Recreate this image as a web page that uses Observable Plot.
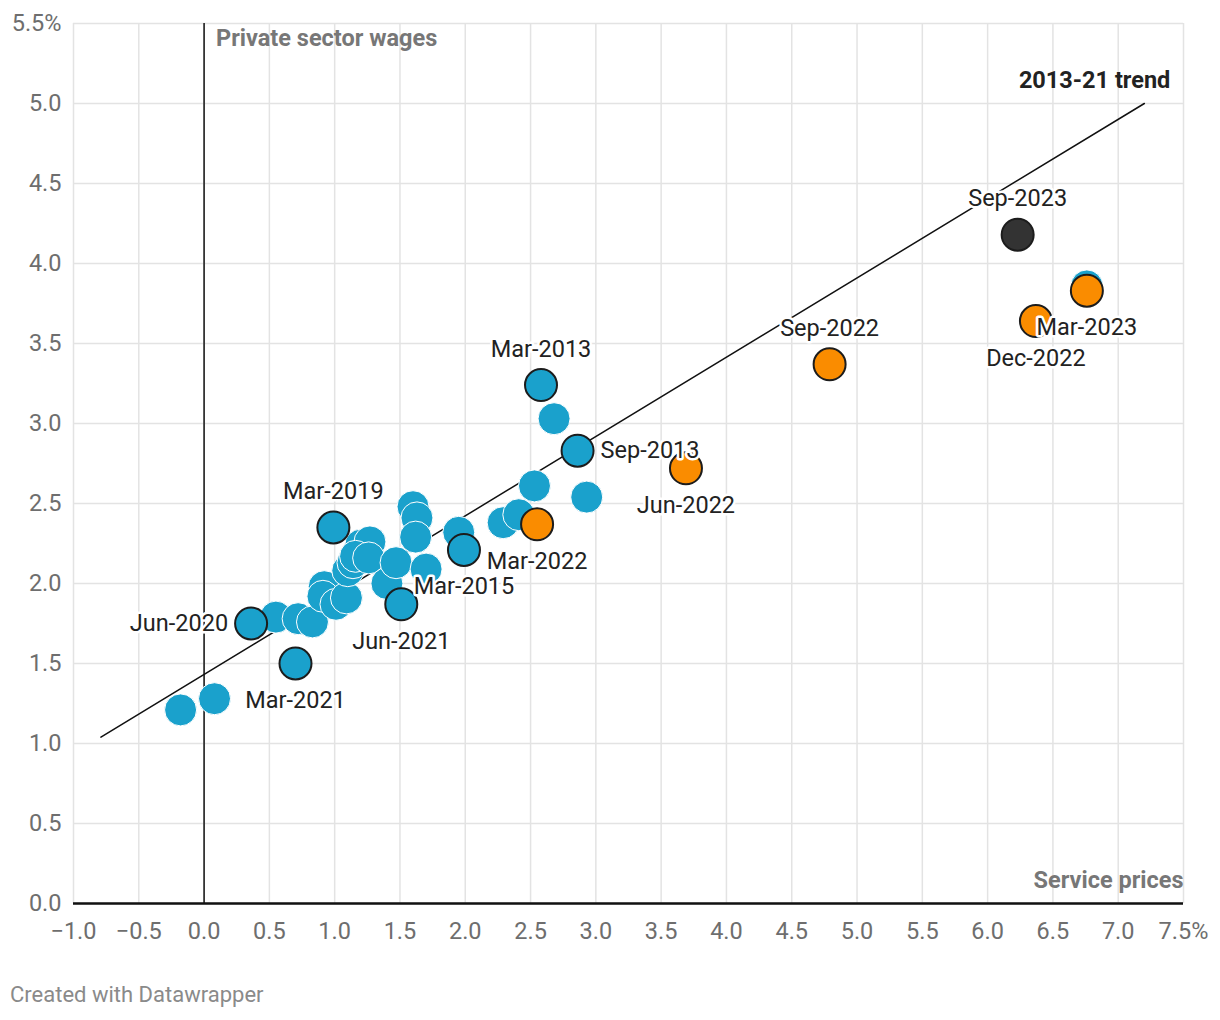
<!DOCTYPE html>
<html>
<head>
<meta charset="utf-8">
<script src="https://cdn.jsdelivr.net/npm/d3@7"></script>
<script src="https://cdn.jsdelivr.net/npm/@observablehq/plot@0.6"></script>
<style>
  body { margin: 0; background: #fff; font-family: Roboto, "Noto Sans", sans-serif; }
  #chart svg { display: block; }
  #footer { margin: 22px 0 0 10px; font-size: 22px; line-height: 26px; color: #8a8a8a; font-family: Roboto, sans-serif; }
</style>
</head>
<body>
<div id="chart"></div>
<div id="footer">Created with Datawrapper</div>
<script>
// Unlabelled quarters (blue)
const bgX = [-0.18, 0.08, 0.55, 0.72, 0.83, 0.92, 0.91, 1.01, 1.09, 1.10, 1.14, 1.20, 1.27, 1.16, 1.26, 1.40, 1.47, 1.60, 1.63, 1.62, 1.70, 1.95, 2.29, 2.41, 2.53, 2.68, 2.93, 6.76];
const bgY = [1.21, 1.28, 1.79, 1.78, 1.76, 1.98, 1.92, 1.87, 1.91, 2.08, 2.13, 2.24, 2.26, 2.17, 2.16, 2.00, 2.13, 2.48, 2.41, 2.29, 2.09, 2.32, 2.38, 2.43, 2.61, 3.03, 2.54, 3.86];

// Labelled quarters
const labNames = ["Mar-2019", "Jun-2020", "Mar-2021", "Jun-2021", "Mar-2015", "Mar-2013", "Sep-2013", "Mar-2022", "Jun-2022", "Sep-2022", "Dec-2022", "Mar-2023", "Sep-2023"];
const labX = [0.99, 0.36, 0.70, 1.51, 1.99, 2.58, 2.86, 2.55, 3.69, 4.79, 6.37, 6.76, 6.23];
const labY = [2.35, 1.75, 1.50, 1.87, 2.21, 3.24, 2.83, 2.37, 2.72, 3.37, 3.64, 3.83, 4.18];
const labGroup = ["2013-21", "2013-21", "2013-21", "2013-21", "2013-21", "2013-21", "2013-21", "2022-23", "2022-23", "2022-23", "2022-23", "2022-23", "latest"];

// 2013-21 trend line end points
const trendX = [-0.79, 7.2];
const trendY = [1.04, 5.0];

const xTicks = [-1, -0.5, 0, 0.5, 1, 1.5, 2, 2.5, 3, 3.5, 4, 4.5, 5, 5.5, 6, 6.5, 7, 7.5];
const yTicks = [0, 0.5, 1, 1.5, 2, 2.5, 3, 3.5, 4, 4.5, 5, 5.5];

const bg = bgX.map((x, i) => ({x, y: bgY[i]}));
const lab = labNames.map((name, i) => ({name, x: labX[i], y: labY[i], group: labGroup[i]}));
const trend = trendX.map((x, i) => ({x, y: trendY[i]}));

const colors = {"2013-21": "#1aa1cc", "2022-23": "#fa8c00", "latest": "#333333"};

const leftNames = ["Jun-2020"];
const rightNames = ["Sep-2013"];
const aboveNames = ["Mar-2019", "Mar-2013", "Sep-2022", "Sep-2023"];
const pos = n => leftNames.includes(n) ? "left" : rightNames.includes(n) ? "right" : aboveNames.includes(n) ? "above" : "below";

const fmtX = d => (d === 7.5 ? "7.5%" : d.toFixed(1)).replace("-", "\u2212");
const fmtY = d => (d === 5.5 ? "5.5%" : d.toFixed(1));

const FS = 23.5;
const labelStyle = {fontSize: FS, fill: "#222", stroke: "white", strokeWidth: 5, fontFamily: "Roboto"};

const chart = Plot.plot({
  width: 1220,
  height: 960,
  marginLeft: 73,
  marginRight: 37,
  marginTop: 23,
  marginBottom: 57,
  style: {fontFamily: "Roboto, sans-serif", fontSize: FS + "px", color: "#6e6e6e", background: "white"},
  x: {domain: [-1, 7.5], ticks: xTicks, tickFormat: fmtX, label: null},
  y: {domain: [0, 5.5], ticks: yTicks, tickFormat: fmtY, label: null},
  marks: [
    Plot.ruleX(xTicks, {stroke: "#e3e3e3", strokeWidth: 1.5}),
    Plot.ruleY(yTicks, {stroke: "#e3e3e3", strokeWidth: 1.5}),
    Plot.axisX({ticks: xTicks, tickFormat: fmtX, tickSize: 0, tickPadding: 19, fontSize: FS, fill: "#6e6e6e", label: null}),
    Plot.axisY({ticks: yTicks, tickFormat: fmtY, tickSize: 0, tickPadding: 12, fontSize: FS, fill: "#6e6e6e", label: null}),
    Plot.ruleX([0], {stroke: "#111", strokeWidth: 1.5}),
    Plot.ruleY([0], {stroke: "#111", strokeWidth: 2.5}),
    Plot.line(trend, {x: "x", y: "y", stroke: "#111", strokeWidth: 1.5}),
    Plot.dot(bg, {x: "x", y: "y", r: 16, fill: colors["2013-21"], stroke: "white", strokeWidth: 1}),
    Plot.dot(lab, {x: "x", y: "y", r: 16, fill: d => colors[d.group], stroke: "#1c1c1c", strokeWidth: 2}),
    Plot.text(lab.filter(d => pos(d.name) === "above"), {x: "x", y: "y", text: "name", dy: -36, ...labelStyle}),
    Plot.text(lab.filter(d => pos(d.name) === "below"), {x: "x", y: "y", text: "name", dy: 37, ...labelStyle}),
    Plot.text(lab.filter(d => pos(d.name) === "left"), {x: "x", y: "y", text: "name", dx: -23, textAnchor: "end", ...labelStyle}),
    Plot.text(lab.filter(d => pos(d.name) === "right"), {x: "x", y: "y", text: "name", dx: 23, textAnchor: "start", ...labelStyle}),
    Plot.text(["Private sector wages"], {x: 0, y: 5.5, text: d => d, dx: 12, dy: 15, textAnchor: "start", fontSize: FS, fontWeight: "bold", fill: "#777"}),
    Plot.text(["2013-21 trend"], {x: trendX[1], y: trendY[1], text: d => d, dx: 26, dy: -23, textAnchor: "end", fontSize: FS, fontWeight: "bold", fill: "#222"}),
    Plot.text(["Service prices"], {x: 7.5, y: 0, text: d => d, dy: -23, textAnchor: "end", fontSize: FS, fontWeight: "bold", fill: "#777"})
  ]
});
document.getElementById("chart").appendChild(chart);
</script>
</body>
</html>
